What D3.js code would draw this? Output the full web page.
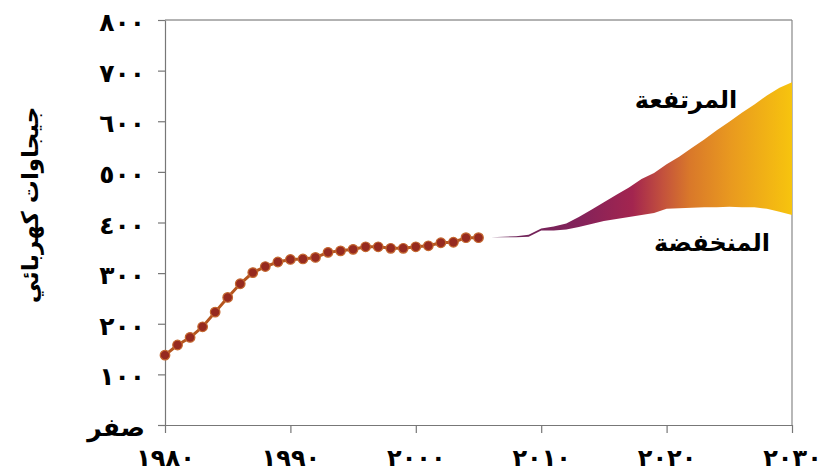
<!DOCTYPE html>
<html><head><meta charset="utf-8">
<script src="https://cdn.jsdelivr.net/npm/d3@7"></script>
<style>html,body{margin:0;padding:0;background:#fff;}svg{display:block;}</style>
</head><body>
<svg id="c" width="823" height="474"></svg>
<script>
// ---- data ----
const histYears = d3.range(1980, 2006);
const histValues = [138,158,173,194,223,252,279,301,313,322,327,328,331,341,344,347,352,352,349,349,352,354,360,361,370,370];
const projYears = d3.range(2006, 2031);
const highValues = [371,372,373,376,388,392,398,411,425,440,455,469,486,498,515,530,547,564,582,599,617,633,651,666,677];
const lowValues  = [371,371,371,372,384,384,386,391,397,403,407,411,415,419,427,428,429,430,430,431,430,430,427,421,415];
const yTicks = [0,100,200,300,400,500,600,700,800];
const yTickLabels = ["صفر","١٠٠","٢٠٠","٣٠٠","٤٠٠","٥٠٠","٦٠٠","٧٠٠","٨٠٠"];
const xTicks = [1980,1990,2000,2010,2020,2030];
const xTickLabels = ["١٩٨٠","١٩٩٠","٢٠٠٠","٢٠١٠","٢٠٢٠","٢٠٣٠"];
const yTitle = "جيجاوات كهربائي";
const highLabel = "المرتفعة";
const lowLabel = "المنخفضة";

const svg = d3.select("#c");
const x = d3.scaleLinear().domain([1980, 2030]).range([165, 792]);
const y = d3.scaleLinear().domain([0, 800]).range([425, 20]);
const font = "'DejaVu Sans', sans-serif";

// gradient for band
const defs = svg.append("defs");
const g = defs.append("linearGradient").attr("id","bandGrad")
  .attr("gradientUnits","userSpaceOnUse")
  .attr("x1", x(2006)).attr("x2", x(2030)).attr("y1",0).attr("y2",0);
[[0,"#652458"],[0.3,"#84225a"],[0.47,"#a3254f"],[0.57,"#c3513d"],[0.66,"#d9782a"],[0.8,"#e99a1f"],[1,"#f7c40e"]]
  .forEach(s => g.append("stop").attr("offset", s[0]).attr("stop-color", s[1]));

// frame
svg.append("line").attr("x1", x(1980)).attr("x2", x(2030)).attr("y1", y(800)).attr("y2", y(800)).attr("stroke","#666").attr("stroke-width",1);
svg.append("line").attr("x1", x(2030)).attr("x2", x(2030)).attr("y1", y(800)).attr("y2", y(0)).attr("stroke","#888").attr("stroke-width",1.2);

// axes
const yAxis = d3.axisLeft(y).tickValues(yTicks).tickSize(7).tickSizeOuter(0).tickFormat((d,i) => yTickLabels[i]);
const ya = svg.append("g").attr("transform", `translate(${x(1980)},0)`).call(yAxis);
const xAxis = d3.axisBottom(x).tickValues(xTicks).tickSize(8).tickSizeOuter(0).tickFormat((d,i) => xTickLabels[i]);
const xa = svg.append("g").attr("transform", `translate(0,${y(0)})`).call(xAxis);
[ya, xa].forEach(a => {
  a.select(".domain").attr("stroke","#777").attr("stroke-width",1.2);
  a.selectAll(".tick line").attr("stroke","#777").attr("stroke-width",1.2);
  a.selectAll(".tick text").attr("fill","#000").style("font-family", font).style("font-weight","bold").style("font-size","25px");
});
ya.selectAll(".tick text").attr("x", -20).attr("dy", "0.42em").style("letter-spacing","2px");
xa.selectAll(".tick text").attr("y", 41).attr("dy", 0).style("font-size","24px").style("letter-spacing","3px");

// band
const area = d3.area().x((d,i) => x(projYears[i])).y0((d,i) => y(lowValues[i])).y1((d,i) => y(highValues[i]));
svg.append("path").datum(projYears).attr("d", area).attr("fill","url(#bandGrad)");

// history line
const line = d3.line().x((d,i) => x(histYears[i])).y((d,i) => y(histValues[i]));
svg.append("path").datum(histValues).attr("d", line).attr("fill","none").attr("stroke","#b5561f").attr("stroke-width",3);
svg.selectAll("circle.pt").data(histValues).enter().append("circle").attr("class","pt")
  .attr("cx",(d,i)=>x(histYears[i])).attr("cy",d=>y(d)).attr("r",4.8)
  .attr("fill","#962a1f").attr("stroke","#c4672f").attr("stroke-width",1.2);

// labels
svg.append("text").attr("x", 686).attr("y", 108).attr("text-anchor","middle")
  .style("font-family", font).style("font-weight","bold").style("font-size","24px").text(highLabel);
svg.append("text").attr("x", 712).attr("y", 251).attr("text-anchor","middle")
  .style("font-family", font).style("font-weight","bold").style("font-size","24px").text(lowLabel);

// y title
svg.append("text").attr("transform","translate(38,205) rotate(-90)").attr("text-anchor","middle")
  .style("font-family", font).style("font-weight","bold").style("font-size","23px").text(yTitle);
</script>
</body></html>
